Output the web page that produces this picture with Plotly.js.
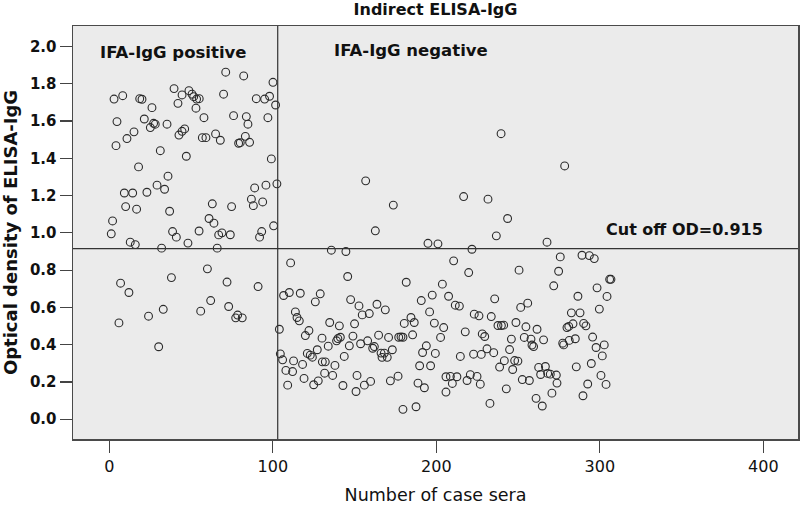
<!DOCTYPE html>
<html>
<head>
<meta charset="utf-8">
<script src="https://cdn.plot.ly/plotly-3.0.1.min.js"></script>
<style>html,body{margin:0;padding:0;background:#fff;}#chart{width:800px;height:505px;}</style>
</head>
<body>
<div id="chart"></div>
<script>
// IFA-IgG positive sera (case number, OD)
const posX = [2.9,8.2,4.7,4.1,10.8,15.1,18.6,20,26.1,21.4,25.1,27.1,28.1,35.3,17.9,31.2,35.9,29.2,33.8,23,9.2,14.3,10,16.7,36.9,2,
  39.6,42,44.5,48.7,50.6,51.6,53.4,55,53,57.9,44.5,46.1,42.6,47.1,56.9,59.1,65,67.9,71.2,82.2,69.9,76,83.8,84.8,79.1,80.1,83.2,85.8,
  89.9,95,98,101.7,100.1,97,99.1,95.8,102.5,88.9,86.9,93.8,88.1,63,74.8,61,64,100.5,
  1.2,12.8,15.9,32,38.7,41,48.1,54.9,66,66.9,68.9,74,91.9,93.2,
  6.9,12,5.9,24,33,38,30.2,60,55.9,62,72,73,77.3,78.5,81.3,91];
const posY = [1.718,1.736,1.597,1.468,1.506,1.542,1.72,1.717,1.672,1.611,1.565,1.588,1.583,1.583,1.354,1.441,1.304,1.256,1.234,1.218,1.214,1.214,1.141,1.127,1.116,1.064,
  1.774,1.695,1.74,1.763,1.744,1.731,1.718,1.72,1.669,1.618,1.545,1.558,1.525,1.411,1.511,1.511,1.531,1.497,1.862,1.842,1.744,1.629,1.624,1.583,1.481,1.484,1.518,1.486,
  1.72,1.718,1.733,1.686,1.808,1.618,1.397,1.256,1.263,1.241,1.181,1.166,1.146,1.156,1.141,1.077,1.052,1.038,
  0.995,0.95,0.937,0.918,1.007,0.977,0.945,1.01,0.918,0.989,1.0,0.99,0.977,1.007,
  0.73,0.68,0.517,0.553,0.59,0.76,0.389,0.807,0.58,0.637,0.736,0.605,0.544,0.559,0.544,0.712];

// IFA-IgG negative sera (case number, OD)
const negX = [156.8,173.7,162.7,239.6,216.7,231.6,243.6,236.7,278.5,267.7,194.9,201,
  135.8,144.7,110.9,145.8,210.6,181.6,203.7,106.6,110.1,116.8,126,129,147.6,152.7,154.7,159,163.7,168.8,190.8,197.5,195.9,207.5,211.6,214.1,
  113.8,114.8,116.2,122.1,119.9,104,134.8,140.7,150,130.1,139.8,141.3,149,133.9,139,146.8,143.7,153.7,158,164.7,170.8,161.1,162.1,
  166.2,168.2,166.8,170,173.1,177,178.4,179.6,180.4,184.5,186.5,185.5,193.9,191.6,199.4,198.8,204.5,202.6,189.8,196.5,188.8,192.7,
  205.9,208.6,212.6,209.8,205.9,214.7,104.6,106,112.7,108,112.1,118.2,121.1,122.9,124.2,127.2,130.3,132.1,138,131.7,136.6,119.1,
  109.1,125,127.8,142.9,151.5,150.9,156,159.8,171.9,176.6,179.6,187.6,
  221.8,219.8,250.6,275.8,289.1,293.6,296.6,274.8,271.8,298.3,306,306.8,304.4,299.7,286.6,235.7,251.6,255.9,223.2,226.1,233.6,
  237.7,239.8,241.2,248.7,254.8,261.6,282.6,287.9,283.6,279.9,281,290.1,291.5,217.7,228.1,229.6,245.9,253.8,257.9,258.5,259.5,
  265.6,277.3,277.9,281.3,285,295.6,297.7,302.7,301.5,222.8,227.5,231,235.1,244.8,241.6,238.7,246.7,247.9,249.9,262.6,266.7,
  263.8,268.1,269.7,273.4,273.8,285.6,294.8,300.7,303.8,292.6,289.7,270.7,261,264.8,252.6,256.9,242.8,232.8,218.8,220.8,224.9,226.9];
const negY = [1.279,1.149,1.011,1.532,1.195,1.181,1.077,0.984,1.359,0.95,0.944,0.941,
  0.907,0.900,0.839,0.766,0.850,0.735,0.725,0.664,0.680,0.676,0.630,0.673,0.642,0.608,0.560,0.567,0.617,0.587,0.637,0.666,0.576,0.660,0.612,0.607,
  0.576,0.546,0.528,0.476,0.449,0.483,0.519,0.501,0.512,0.435,0.433,0.440,0.446,0.392,0.421,0.394,0.337,0.405,0.421,0.451,0.439,0.381,0.390,
  0.355,0.355,0.332,0.332,0.373,0.440,0.442,0.440,0.514,0.546,0.519,0.453,0.394,0.358,0.353,0.516,0.492,0.439,0.287,0.287,0.194,0.169,
  0.228,0.230,0.228,0.192,0.146,0.337,0.351,0.319,0.313,0.262,0.256,0.294,0.353,0.344,0.333,0.373,0.308,0.308,0.289,0.247,0.235,0.219,
  0.183,0.185,0.206,0.181,0.235,0.149,0.183,0.203,0.206,0.231,0.053,0.067,
  0.912,0.787,0.800,0.871,0.880,0.878,0.862,0.794,0.716,0.705,0.751,0.751,0.659,0.591,0.660,0.646,0.600,0.623,0.564,0.555,0.551,
  0.503,0.503,0.505,0.519,0.496,0.483,0.571,0.571,0.512,0.492,0.498,0.514,0.501,0.469,0.458,0.444,0.430,0.439,0.430,0.398,0.390,
  0.426,0.408,0.399,0.423,0.432,0.441,0.385,0.399,0.340,0.349,0.348,0.378,0.357,0.374,0.314,0.280,0.267,0.315,0.312,0.278,0.283,
  0.240,0.246,0.242,0.237,0.194,0.281,0.299,0.235,0.187,0.189,0.126,0.140,0.112,0.071,0.213,0.208,0.163,0.085,0.208,0.239,0.230,0.188];

const cutoff = 0.915;
const ifaSplit = 103;
const xTicks = [0, 100, 200, 300, 400];
const yTicks = [0.0, 0.2, 0.4, 0.6, 0.8, 1.0, 1.2, 1.4, 1.6, 1.8, 2.0];
const labels = {
  title: "Indirect ELISA-IgG",
  xTitle: "Number of case sera",
  yTitle: "Optical density of ELISA-IgG",
  pos: "IFA-IgG positive",
  neg: "IFA-IgG negative",
  cut: "Cut off OD=0.915"
};

const FONT = "DejaVu Sans, Arial, sans-serif";
const markerStyle = {symbol: "circle-open", size: 7.8, color: "#2b2b2b", line: {width: 1.1, color: "#2b2b2b"}};

const traces = [
  {x: posX, y: posY, type: "scatter", mode: "markers", marker: markerStyle, hoverinfo: "x+y", name: labels.pos},
  {x: negX, y: negY, type: "scatter", mode: "markers", marker: markerStyle, hoverinfo: "x+y", name: labels.neg}
];

const layout = {
  width: 800, height: 505,
  margin: {l: 73, r: 2, t: 26, b: 66, pad: 0},
  paper_bgcolor: "#ffffff",
  plot_bgcolor: "#ebebeb",
  showlegend: false,
  title: {text: labels.title, x: 0.5, xref: "paper", xanchor: "center", y: 0.982, yref: "container", yanchor: "middle", pad: {t: 0, b: 0},
          font: {family: FONT, size: 16, weight: "bold", color: "#111"}},
  xaxis: {
    range: [-22.2, 421.2], tickvals: xTicks, ticktext: xTicks.map(String),
    ticks: "outside", ticklen: 12, tickwidth: 1.2, tickcolor: "#444",
    showline: true, mirror: true, linecolor: "#4a4a4a", linewidth: 1.5,
    showgrid: false, zeroline: false,
    tickfont: {family: FONT, size: 16, color: "#111"},
    title: {text: labels.xTitle, font: {family: FONT, size: 17.5, color: "#111"}, standoff: 18}
  },
  yaxis: {
    range: [-0.106, 2.11], tickvals: yTicks, ticktext: yTicks.map(v => v.toFixed(1)),
    ticks: "outside", ticklen: 12, tickwidth: 1.2, tickcolor: "#444",
    showline: true, mirror: true, linecolor: "#4a4a4a", linewidth: 1.5,
    showgrid: false, zeroline: false,
    tickfont: {family: FONT, size: 15, weight: "bold", color: "#111"},
    title: {text: labels.yTitle, font: {family: FONT, size: 18, weight: "bold", color: "#111"}, standoff: 7}
  },
  shapes: [
    {type: "line", xref: "x", yref: "paper", x0: ifaSplit, x1: ifaSplit, y0: 0, y1: 1, line: {color: "#333", width: 1.2}},
    {type: "line", xref: "paper", yref: "y", x0: 0, x1: 1, y0: cutoff, y1: cutoff, line: {color: "#333", width: 1.2}}
  ],
  annotations: [
    {text: labels.pos, x: -6.8, y: 1.97, xref: "x", yref: "y", xanchor: "left", yanchor: "middle", showarrow: false,
     font: {family: FONT, size: 16.5, weight: "bold", color: "#111"}},
    {text: labels.neg, x: 136.0, y: 1.977, xref: "x", yref: "y", xanchor: "left", yanchor: "middle", showarrow: false,
     font: {family: FONT, size: 16.5, weight: "bold", color: "#111"}},
    {text: labels.cut, x: 302.8, y: 1.016, xref: "x", yref: "y", xanchor: "left", yanchor: "middle", showarrow: false,
     font: {family: FONT, size: 16, weight: "bold", color: "#111"}}
  ]
};

Plotly.newPlot("chart", traces, layout, {displayModeBar: false, staticPlot: true});
</script>
</body>
</html>
